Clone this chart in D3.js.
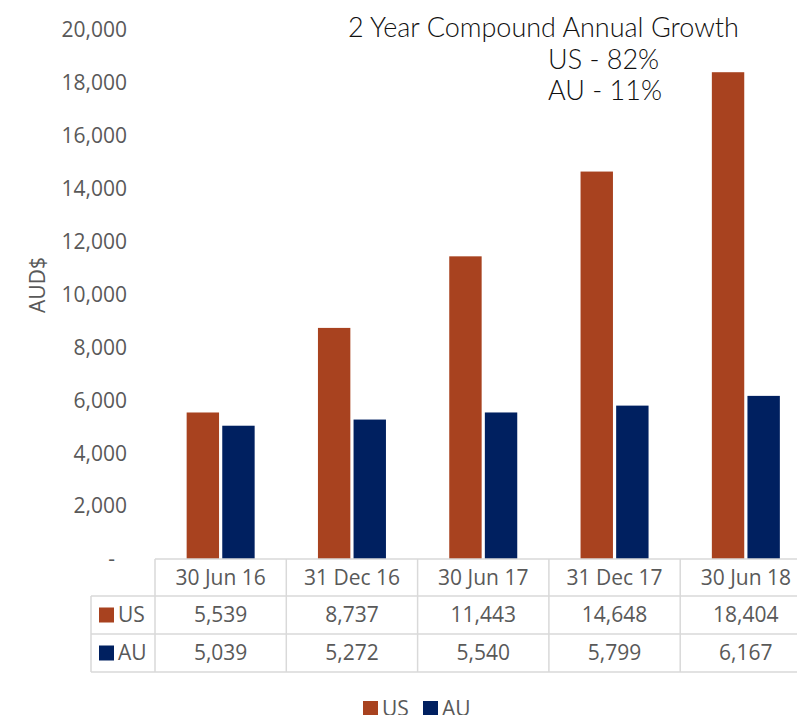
<!DOCTYPE html>
<html lang="en">
<head>
    <meta charset="utf-8">
    <title>US vs AU</title>
    <script src="https://d3js.org/d3.v7.min.js"></script>
    <style>
        body { margin: 0; background: #fff; }
        svg text { font-family: "Open Sans", sans-serif; fill: #595959; }
        .note { font-family: Lato, sans-serif; font-weight: 300; fill: #111; }
    </style>
</head>
<body>
    <div id="chart"></div>
    <script>
        // data
        var periods = ["30 Jun 16", "31 Dec 16", "30 Jun 17", "31 Dec 17", "30 Jun 18"];
        var usValues = [5539, 8737, 11443, 14648, 18404];
        var auValues = [5039, 5272, 5540, 5799, 6167];
        var seriesNames = ["US", "AU"];
        var yTicks = [0, 2000, 4000, 6000, 8000, 10000, 12000, 14000, 16000, 18000, 20000];
        var noteLines = ["2 Year Compound Annual Growth", "US - 82%", "AU - 11%"];

        var colors = { US: "#A8421F", AU: "#002060" };
        var width = 797, height = 715;

        var svg = d3.select("#chart").append("svg")
            .attr("width", width)
            .attr("height", height);

        // plot area
        var plotLeft = 155, colW = 131.3, plotTop = 30, base = 559;
        var x0 = d3.scaleBand().domain(periods).range([plotLeft, plotLeft + colW * periods.length]).padding(0);
        var x1 = d3.scaleBand().domain(seriesNames).range([-34, 34]).paddingInner(0.09);
        var y = d3.scaleLinear().domain([0, 20000]).range([base, plotTop]);

        // y axis ticks
        var fmt = d3.format(",");
        svg.append("g").selectAll("text")
            .data(yTicks)
            .join("text")
            .attr("x", d => d === 0 ? 115 : 127)
            .attr("y", d => y(d))
            .attr("dy", "0.35em")
            .attr("text-anchor", "end")
            .style("font-size", "21px")
            .text(d => d === 0 ? "-" : fmt(d));

        svg.append("text")
            .attr("transform", "translate(45,285) rotate(-90)")
            .attr("text-anchor", "middle")
            .style("font-size", "21px")
            .text("AUD$");

        // bars
        var rows = periods.map((p, i) => ({ period: p, US: usValues[i], AU: auValues[i] }));
        var groups = svg.append("g").selectAll("g")
            .data(rows)
            .join("g")
            .attr("transform", d => "translate(" + (x0(d.period) + x0.bandwidth() / 2) + ",0)");

        groups.selectAll("rect")
            .data(d => seriesNames.map(k => ({ key: k, value: d[k] })))
            .join("rect")
            .attr("x", d => x1(d.key))
            .attr("width", x1.bandwidth())
            .attr("y", d => y(d.value))
            .attr("height", d => base - y(d.value))
            .attr("fill", d => colors[d.key]);

        // data table
        var rowH = [base, 596, 634, 672];
        var tbl = svg.append("g")
            .attr("fill", "none")
            .attr("stroke", "#D9D9D9")
            .attr("stroke-width", 1.5);
        var xEnd = plotLeft + colW * periods.length;
        // horizontal lines
        tbl.append("line").attr("x1", plotLeft).attr("x2", xEnd).attr("y1", rowH[0]).attr("y2", rowH[0]);
        rowH.slice(1).forEach(function (yy) {
            tbl.append("line").attr("x1", 91).attr("x2", xEnd).attr("y1", yy).attr("y2", yy);
        });
        // vertical lines
        tbl.append("line").attr("x1", 91).attr("x2", 91).attr("y1", rowH[1]).attr("y2", rowH[3]);
        periods.forEach(function (p) {
            tbl.append("line").attr("x1", x0(p)).attr("x2", x0(p)).attr("y1", rowH[0]).attr("y2", rowH[3]);
        });
        tbl.append("line").attr("x1", xEnd).attr("x2", xEnd).attr("y1", rowH[0]).attr("y2", rowH[3]);

        var tfont = "21px";
        svg.append("g").selectAll("text")
            .data(periods)
            .join("text")
            .attr("x", d => x0(d) + x0.bandwidth() / 2)
            .attr("y", (rowH[0] + rowH[1]) / 2)
            .attr("dy", "0.35em")
            .attr("text-anchor", "middle")
            .style("font-size", tfont)
            .text(d => d);

        seriesNames.forEach(function (k, r) {
            var vals = k === "US" ? usValues : auValues;
            var cy = (rowH[r + 1] + rowH[r + 2]) / 2;
            svg.append("g").selectAll("text")
                .data(vals)
                .join("text")
                .attr("x", (d, i) => x0(periods[i]) + x0.bandwidth() / 2)
                .attr("y", cy)
                .attr("dy", "0.35em")
                .attr("text-anchor", "middle")
                .style("font-size", tfont)
                .text(d => fmt(d));
            svg.append("rect")
                .attr("x", 99).attr("y", cy - 7.5)
                .attr("width", 15).attr("height", 15)
                .attr("fill", colors[k]);
            svg.append("text")
                .attr("x", 118).attr("y", cy)
                .attr("dy", "0.35em")
                .style("font-size", tfont)
                .text(k);
        });

        // legend
        var legend = svg.append("g").selectAll("g")
            .data(seriesNames)
            .join("g")
            .attr("transform", (d, i) => "translate(" + (363 + i * 60) + ",701)");
        legend.append("rect")
            .attr("width", 15).attr("height", 15)
            .attr("fill", d => colors[d]);
        legend.append("text")
            .attr("x", 19).attr("y", 8)
            .attr("dy", "0.35em")
            .style("font-size", "21px")
            .text(d => d);

        // annotation
        var noteX = [348, 548, 548];
        svg.append("g").selectAll("text")
            .data(noteLines)
            .join("text")
            .attr("class", "note")
            .attr("x", (d, i) => noteX[i])
            .attr("y", (d, i) => 37 + i * 31.5)
            .style("font-size", "27px")
            .text(d => d);
    </script>
</body>
</html>
